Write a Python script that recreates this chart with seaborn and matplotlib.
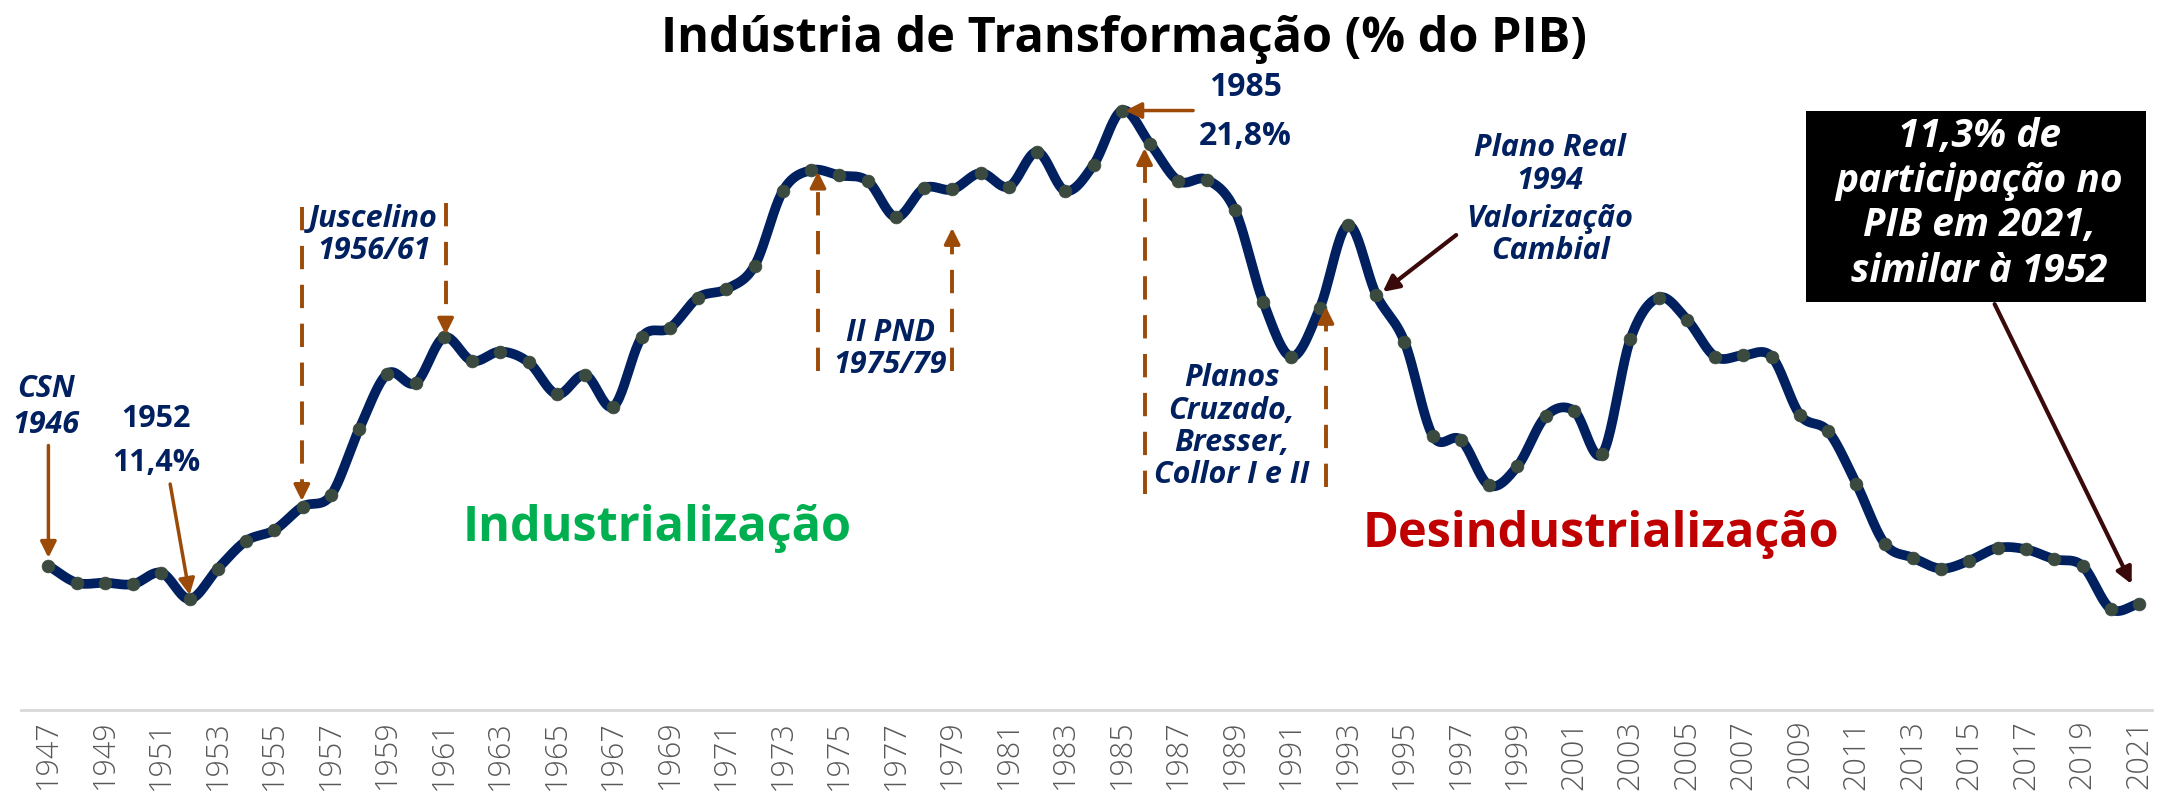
import numpy as np
import pandas as pd
import matplotlib
matplotlib.use("Agg")
import matplotlib.pyplot as plt
import seaborn as sns
from matplotlib.patches import Rectangle

# ---------------- data ----------------
years = list(range(1947, 2022))
share = [12.11, 11.75, 11.75, 11.72, 11.96, 11.40, 12.05, 12.64, 12.87, 13.37,
         13.61, 15.02, 16.20, 16.00, 16.97, 16.47, 16.67, 16.44, 15.76, 16.17,
         15.50, 16.97, 17.17, 17.82, 18.00, 18.50, 20.09, 20.53, 20.42, 20.30,
         19.53, 20.15, 20.12, 20.47, 20.18, 20.92, 20.09, 20.65, 21.80, 21.09,
         20.30, 20.33, 19.68, 17.73, 16.56, 17.59, 19.36, 17.88, 16.88, 14.88,
         14.79, 13.82, 14.23, 15.29, 15.41, 14.49, 16.94, 17.82, 17.35, 16.56,
         16.59, 16.56, 15.32, 14.97, 13.85, 12.58, 12.28, 12.05, 12.22, 12.49,
         12.46, 12.25, 12.11, 11.19, 11.30]
tick_years = list(range(1947, 2022, 2))
title = "Indústria de Transformação (% do PIB)"

df = pd.DataFrame({"ano": years, "pib": share})

# smooth rendering (Catmull-Rom, like a spreadsheet "smoothed line")
def catmull_rom(x, y, n=24):
    p = np.column_stack([x, y]).astype(float)
    p = np.vstack([2 * p[0] - p[1], p, 2 * p[-1] - p[-2]])
    out = []
    t = np.linspace(0, 1, n, endpoint=False)[:, None]
    for i in range(1, len(p) - 2):
        p0, p1, p2, p3 = p[i - 1], p[i], p[i + 1], p[i + 2]
        seg = 0.5 * ((2 * p1) + (-p0 + p2) * t + (2 * p0 - 5 * p1 + 4 * p2 - p3) * t ** 2
                     + (-p0 + 3 * p1 - 3 * p2 + p3) * t ** 3)
        out.append(seg)
    out.append(p[-2][None, :])
    return np.vstack(out)

smooth = catmull_rom(df["ano"].values, df["pib"].values)
sdf = pd.DataFrame({"x": smooth[:, 0], "y": smooth[:, 1]})

# ---------------- style ----------------
sns.set_theme(style="white")
plt.rcParams["font.family"] = ["Open Sans", "DejaVu Sans"]

NAVY = "#002060"
BROWN = "#9C4A08"
DARK = "#3A0A0A"
FS = 22

fig = plt.figure(figsize=(21.7, 8), dpi=100)
ax = fig.add_axes([21 / 2170, 0.1125, (2152 - 21) / 2170, 0.7875])

sns.lineplot(data=sdf, x="x", y="y", sort=False, estimator=None, ax=ax,
             color=NAVY, linewidth=7, solid_capstyle="round", zorder=3)
sns.scatterplot(data=df, x="ano", y="pib", ax=ax, color="#3B4A3E", s=85,
                edgecolor="#3B4A3E", linewidth=0.5, zorder=4)

ax.set_xlim(1946.03, 2021.46)
ax.set_ylim(9.04, 22.45)
ax.set_xticks(tick_years)
ax.set_xticklabels([str(t) for t in tick_years], rotation=90, fontsize=22,
                   color="#595959", fontweight="light")
ax.tick_params(axis="x", length=0, pad=7)
ax.set_yticks([])
ax.set_xlabel("")
ax.set_ylabel("")
for s in ["top", "left", "right"]:
    ax.spines[s].set_visible(False)
ax.spines["bottom"].set_color("#D9D9D9")
ax.spines["bottom"].set_linewidth(2)

fig.text(0.518, 0.951, title, ha="center", va="center", fontsize=35,
         fontweight="bold", color="black")

def solid_arrow(x0, y0, x1, y1, color=BROWN, lw=2.5):
    ax.annotate("", xy=(x1, y1), xytext=(x0, y0),
                arrowprops=dict(arrowstyle="-|>,head_length=0.8,head_width=0.4",
                                color=color, lw=lw, shrinkA=0, shrinkB=0), zorder=5)

def dashed_arrow(x, y0, y1):
    ax.plot([x, x], [y0, y1 + (0.25 if y1 < y0 else -0.25)], color=BROWN, lw=2.8,
            linestyle=(0, (6, 4)), zorder=2)
    ax.annotate("", xy=(x, y1), xytext=(x, y1 + (0.3 if y1 < y0 else -0.3)),
                arrowprops=dict(arrowstyle="-|>,head_length=0.8,head_width=0.4",
                                color=BROWN, lw=2.5, shrinkA=0, shrinkB=0), zorder=5)

def label(x, ys, lines, italic=True, color=NAVY, size=FS, weight="bold"):
    for y, s in zip(ys, lines):
        ax.text(x, y, s, ha="center", va="center", fontsize=size, color=color,
                fontweight=weight, fontstyle="italic" if italic else "normal",
                zorder=7)

# CSN 1946
label(1946.9, [15.88, 15.11], ["CSN", "1946"])
solid_arrow(1947.0, 14.67, 1947.0, 12.28)

# 1952
label(1950.82, [15.23, 14.29], ["1952", "11,4%"], italic=False)
solid_arrow(1951.31, 13.85, 1952.0, 11.49)

# Juscelino
label(1958.51, [19.50, 18.80], ["Juscelino", "1956/61"])
dashed_arrow(1955.97, 19.74, 13.49)
dashed_arrow(1961.06, 19.83, 17.03)

# II PND
label(1976.79, [17.06, 16.38], ["II PND", "1975/79"])
dashed_arrow(1974.24, 16.26, 20.50)
dashed_arrow(1978.99, 16.26, 19.30)

# 1985
label(1989.38, [22.30, 21.24], ["1985", "21,8%"], italic=False, size=23)
solid_arrow(1987.52, 21.80, 1985.12, 21.80)

# Planos
dashed_arrow(1985.80, 13.64, 21.00)
dashed_arrow(1992.22, 13.79, 17.62)
label(1988.89, [16.11, 15.41, 14.73, 14.05],
      ["Planos", "Cruzado,", "Bresser,", "Collor I e II"])

# Plano Real
label(2000.16, [21.00, 20.30, 19.50, 18.82],
      ["Plano Real", "1994", "Valorização", "Cambial"])
solid_arrow(1996.83, 19.15, 1994.23, 17.94, color=DARK, lw=3)

# phases
label(1968.56, [12.90], ["Industrialização"], italic=False, color="#00B050", size=35)
label(2001.97, [12.78], ["Desindustrialização"], italic=False, color="#C00000", size=35)

# black box
ax.add_patch(Rectangle((2009.22, 17.73), 2021.23 - 2009.22, 21.80 - 17.73,
                       facecolor="black", edgecolor="none", zorder=6))
label(2015.35, [21.24, 20.30, 19.36, 18.38],
      ["11,3% de", "participação no", "PIB em 2021,", "similar à 1952"],
      color="white", size=28)
solid_arrow(2015.89, 17.68, 2020.74, 11.72, color=DARK, lw=3)

fig.savefig("out.png", dpi=100, facecolor="white")
